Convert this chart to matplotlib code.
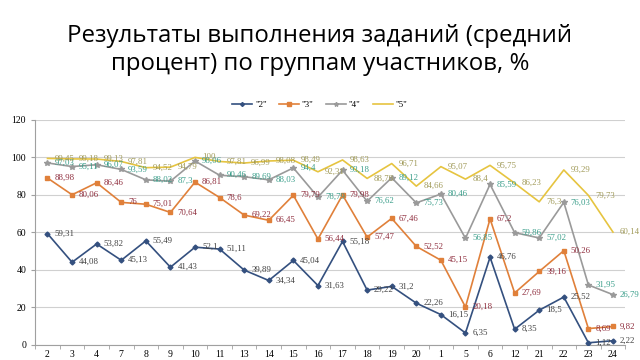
import matplotlib
matplotlib.use("Agg")
import matplotlib.pyplot as plt
import numpy as np

# -----------------------------------
# Data
# -----------------------------------

tasks = ["2", "3", "4", "7", "8", "9", "10", "11", "13", "14", "15", "16",
         "17", "18", "19", "20", "1", "5", "6", "12", "21", "22", "23", "24"]

grade_2 = [59.31, 44.08, 53.82, 45.13, 55.49, 41.43, 52.1, 51.11, 39.89, 34.34,
           45.04, 31.63, 55.18, 29.22, 31.2, 22.26, 16.15, 6.35, 46.76, 8.35,
           18.5, 25.52, 1.12, 2.22]

grade_3 = [88.98, 80.06, 86.46, 76, 75.01, 70.64, 86.81, 78.6, 69.22, 66.45,
           79.79, 56.44, 79.98, 57.47, 67.46, 52.52, 45.15, 20.18, 67.2, 27.69,
           39.16, 50.26, 8.69, 9.82]

grade_4 = [97.03, 95.11, 96.07, 93.59, 88.02, 87.3, 98.06, 90.46, 89.69, 88.03,
           94.4, 78.79, 93.18, 76.62, 89.12, 75.73, 80.46, 56.85, 85.59, 59.86,
           57.02, 76.03, 31.95, 26.79]

grade_5 = [99.45, 99.18, 99.13, 97.81, 94.52, 94.79, 100, 97.81, 96.99, 98.08,
           98.49, 92.31, 98.63, 88.78, 96.71, 84.66, 95.07, 88.4, 95.75, 86.23,
           76.3, 93.29, 79.73, 60.14]

series_names = ['"2"', '"3"', '"4"', '"5"']

title = "Результаты выполнения заданий (средний\nпроцент) по группам участников, %"

# -----------------------------------
# Figure Setup
# -----------------------------------

fig = plt.figure(figsize=(6.4, 3.6), dpi=100)
fig.patch.set_facecolor("white")
ax = fig.add_axes([0.055, 0.042, 0.922, 0.625])

x = np.arange(len(tasks))

styles = [
    (grade_2, "#34507F", "D", 2.5, "#404040"),
    (grade_3, "#E0803A", "s", 3.0, "#8E2C3C"),
    (grade_4, "#9A9A9A", "*", 4.0, "#3A9E8A"),
    (grade_5, "#E6C440", None, 0, "#A09A58"),
]

for (vals, col, mk, ms, lab_col), name in zip(styles, series_names):
    ax.plot(x, vals, color=col, lw=1.2, marker=mk, ms=ms,
            label=name, zorder=3)
    for xi, v in zip(x, vals):
        ax.annotate(f"{v:g}".replace(".", ","), (xi, v),
                    xytext=(5, 0), textcoords="offset points",
                    ha="left", va="center", fontsize=6.3,
                    family="Liberation Serif", color=lab_col, zorder=4)

# -----------------------------------
# Axes
# -----------------------------------

ax.set_xlim(-0.5, len(tasks) - 0.5)
ax.set_ylim(0, 120)
ax.set_yticks(range(0, 121, 20))
ax.set_xticks(x)
ax.set_xticklabels(tasks)
ax.set_xticks(np.arange(-0.5, len(tasks), 1), minor=True)

ax.grid(axis="y", color="#D0D0D0", lw=0.8)
ax.set_axisbelow(True)

for side in ["top", "right"]:
    ax.spines[side].set_visible(False)
ax.spines["left"].set_color("#A0A0A0")
ax.spines["bottom"].set_color("#A0A0A0")

ax.tick_params(axis="x", which="major", length=0, pad=4, labelsize=7)
ax.tick_params(axis="x", which="minor", length=3, color="#A0A0A0")
ax.tick_params(axis="y", length=3, color="#A0A0A0", labelsize=7)
for lbl in ax.get_xticklabels() + ax.get_yticklabels():
    lbl.set_family("Liberation Serif")

# -----------------------------------
# Legend and Title
# -----------------------------------

leg = fig.legend(loc="center", bbox_to_anchor=(0.5, 1 - 105 / 360), ncol=4,
                 frameon=False, prop={"family": "Liberation Serif", "size": 6.5},
                 handlelength=2.2, columnspacing=1.4, handletextpad=0.3,
                 markerscale=0.8)

fig.text(0.5, 1 - 50 / 360, title, ha="center", va="center",
         fontsize=17.3, family="Open Sans", linespacing=1.2)

fig.savefig("out.png", dpi=100)
